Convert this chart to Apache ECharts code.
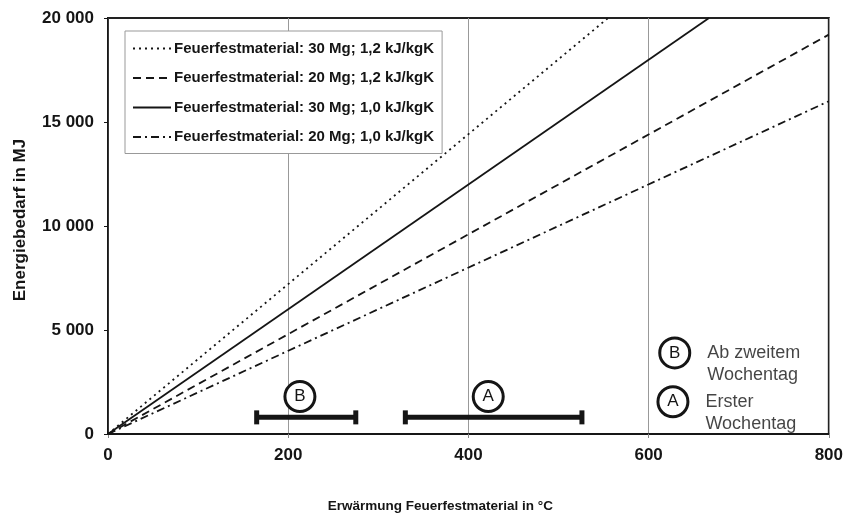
<!DOCTYPE html>
<html>
<head>
<meta charset="utf-8">
<script src="https://cdn.jsdelivr.net/npm/echarts@6/dist/echarts.min.js"></script>
<style>html,body{margin:0;padding:0;background:#fff}#c{width:846px;height:520px}</style>
</head>
<body>
<div id="c"></div>
<script>
// ---- data ----
const seriesNames = [
  'Feuerfestmaterial: 30 Mg; 1,2 kJ/kgK',
  'Feuerfestmaterial: 20 Mg; 1,2 kJ/kgK',
  'Feuerfestmaterial: 30 Mg; 1,0 kJ/kgK',
  'Feuerfestmaterial: 20 Mg; 1,0 kJ/kgK'
];
const line30mg12 = [[0, 0], [555, 20000]];
const line20mg12 = [[0, 0], [800, 19200]];
const line30mg10 = [[0, 0], [667, 20000]];
const line20mg10 = [[0, 0], [800, 16000]];
// ranges: [low, high, y]
const rangeB = [165, 275, 800];
const rangeA = [330, 526, 800];
// circled markers: [x, y, letter]
const markerLetters = [[213, 1800, 'B'], [422, 1800, 'A']];
const keyMarkers = [[629, 3900, 'B'], [627, 1550, 'A']];
const keyTexts = ['Ab zweitem\nWochentag', 'Erster\nWochentag'];
const xTicks = [0, 200, 400, 600, 800];
const yTicks = [0, 5000, 10000, 15000, 20000];

const FONT = '"Liberation Sans", Arial, sans-serif';
const INK = '#151515';

const chart = echarts.init(document.getElementById('c'), null, {renderer: 'canvas'});

function lineSeries(name, data, dash) {
  return {
    name, type: 'line', data, symbol: 'none', silent: true,
    lineStyle: {color: INK, width: 1.8, type: dash},
    itemStyle: {color: INK},
    z: 3
  };
}

const circleStyle = {
  symbol: 'circle', symbolSize: 30,
  itemStyle: {color: '#fff', borderColor: INK, borderWidth: 3, opacity: 1},
};

chart.setOption({
  animation: false,
  textStyle: {fontFamily: FONT},
  grid: {left: 108, right: 17, top: 18, bottom: 86, show: true, borderColor: '#222', borderWidth: 2, backgroundColor: 'transparent'},
  legend: {
    orient: 'vertical', left: 125, top: 31,
    data: seriesNames,
    itemWidth: 38, itemHeight: 14, itemGap: 14.5,
    padding: [10, 8, 9, 7],
    borderColor: '#999', borderWidth: 1, backgroundColor: '#fff',
    itemStyle: {opacity: 0},
    textStyle: {fontFamily: FONT, fontWeight: 'bold', fontSize: 15, color: INK, padding: [0, 0, 0, -2]},
    selectedMode: false
  },
  xAxis: {
    type: 'value', min: 0, max: 800, interval: 200,
    name: 'Erwärmung Feuerfestmaterial in °C', nameLocation: 'middle', nameGap: 65,
    nameTextStyle: {fontFamily: FONT, fontWeight: 'bold', fontSize: 13.5, color: INK, padding: [0, 56, 0, 0]},
    axisLine: {show: true, lineStyle: {color: INK, width: 1.5}},
    axisTick: {show: true, length: 4, lineStyle: {color: '#888'}},
    axisLabel: {fontFamily: FONT, fontWeight: 'bold', fontSize: 17, color: INK, margin: 13},
    splitLine: {show: true, lineStyle: {color: '#999', width: 1}}
  },
  yAxis: {
    type: 'value', min: 0, max: 20000, interval: 5000,
    name: 'Energiebedarf in MJ', nameLocation: 'middle', nameGap: 79,
    nameTextStyle: {fontFamily: FONT, fontWeight: 'bold', fontSize: 17, color: INK, padding: [0, 0, 0, 12]},
    axisLine: {show: true, lineStyle: {color: INK, width: 1.5}},
    axisTick: {show: true, length: 4, lineStyle: {color: INK}},
    axisLabel: {
      fontFamily: FONT, fontWeight: 'bold', fontSize: 17, color: INK, margin: 14,
      formatter: v => String(v).replace(/\B(?=(\d{3})+(?!\d))/g, ' ')
    },
    splitLine: {show: false}
  },
  series: [
    lineSeries(seriesNames[0], line30mg12, [2, 4]),
    lineSeries(seriesNames[1], line20mg12, [8, 5]),
    lineSeries(seriesNames[2], line30mg10, 'solid'),
    lineSeries(seriesNames[3], line20mg10, [8, 4, 2, 4]),
    {
      type: 'custom', silent: true, z: 4,
      data: [rangeB, rangeA],
      renderItem: (params, api) => {
        const p1 = api.coord([api.value(0), api.value(2)]);
        const p2 = api.coord([api.value(1), api.value(2)]);
        const st = {fill: INK};
        return {
          type: 'group', children: [
            {type: 'rect', shape: {x: p1[0], y: p1[1] - 2.5, width: p2[0] - p1[0], height: 5}, style: st},
            {type: 'rect', shape: {x: p1[0] - 2.5, y: p1[1] - 7, width: 5, height: 14}, style: st},
            {type: 'rect', shape: {x: p2[0] - 2.5, y: p2[1] - 7, width: 5, height: 14}, style: st}
          ]
        };
      }
    },
    Object.assign({
      type: 'scatter', silent: true, z: 5,
      data: markerLetters,
      label: {show: true, position: 'inside', formatter: p => p.value[2], fontFamily: FONT, fontSize: 17, color: INK}
    }, circleStyle),
    Object.assign({
      type: 'scatter', silent: true, z: 5,
      data: keyMarkers,
      label: {show: true, position: 'inside', formatter: p => p.value[2], fontFamily: FONT, fontSize: 17, color: INK}
    }, circleStyle),
    {
      type: 'scatter', silent: true, z: 5, symbolSize: 1,
      itemStyle: {color: 'transparent'},
      data: keyMarkers.map((m, i) => [m[0], m[1], keyTexts[i]]),
      label: {
        show: true, position: 'right', distance: 32, offset: [0, 11],
        formatter: p => p.value[2], fontFamily: FONT, fontSize: 18, lineHeight: 22, color: INK
      }
    }
  ]
});
</script>
</body>
</html>
